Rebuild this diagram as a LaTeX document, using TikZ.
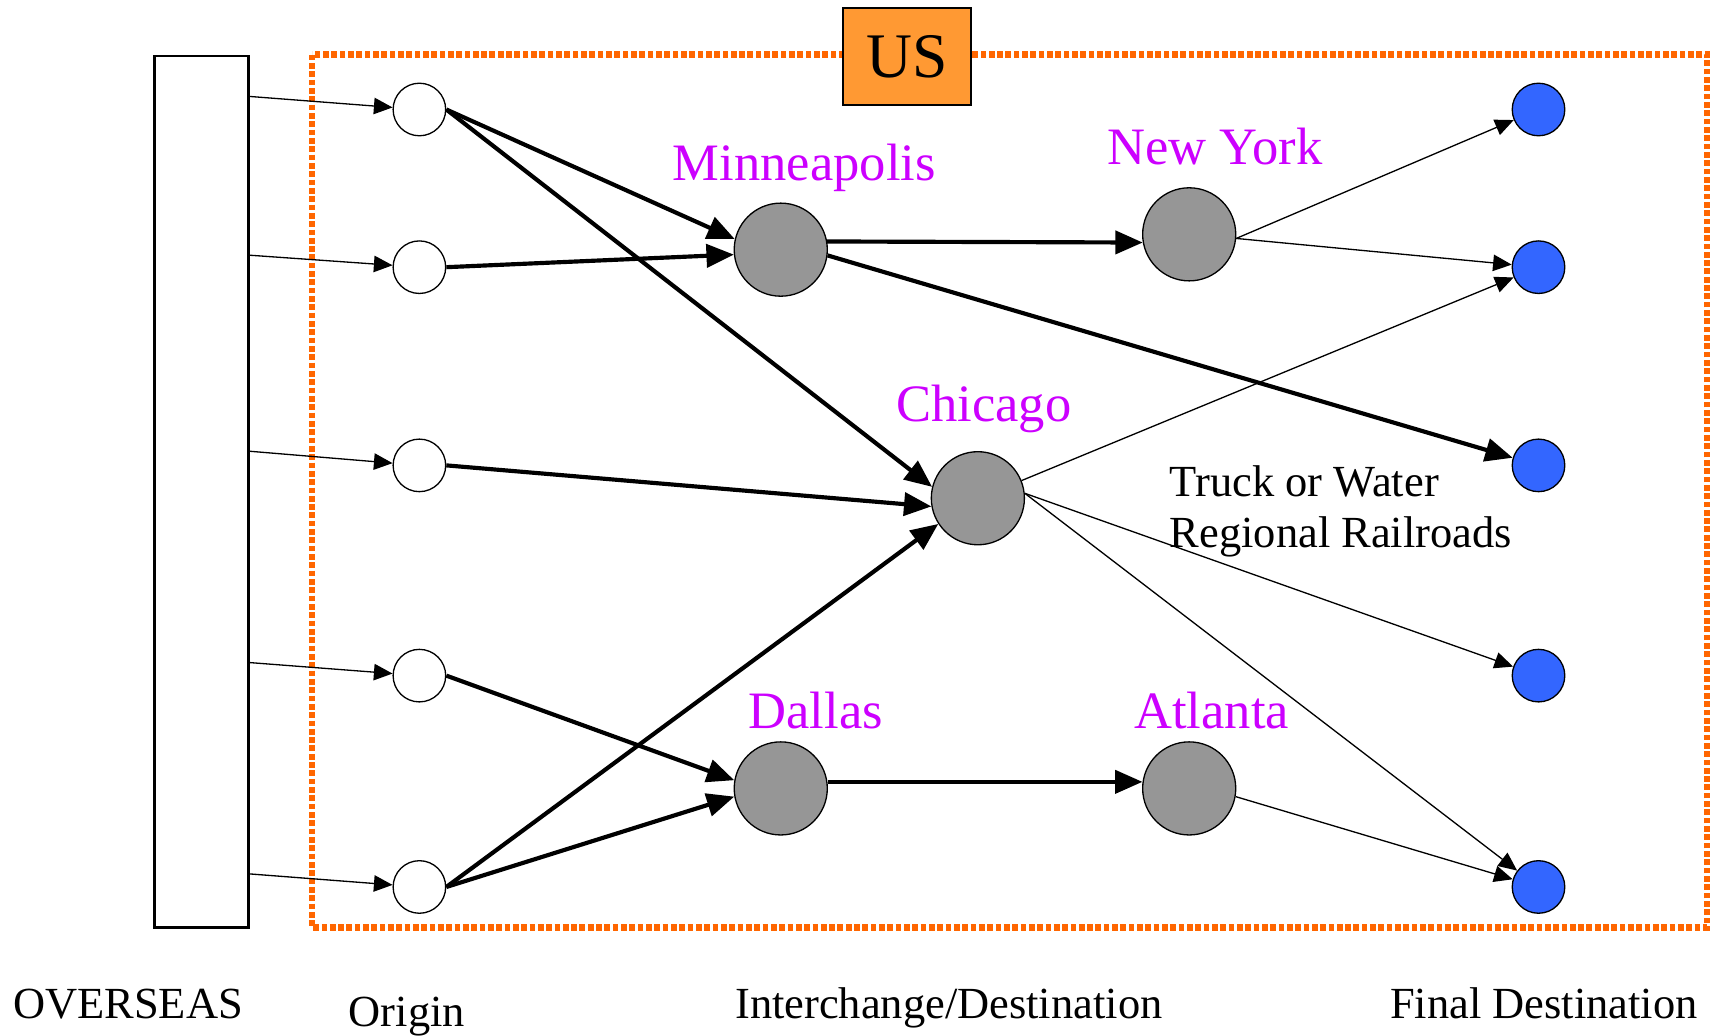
\documentclass[tikz,border=0pt]{standalone}
\usepackage{fontspec}
\setmainfont{Liberation Serif}
\usetikzlibrary{arrows.meta}
\definecolor{mag}{HTML}{CC00FF}
\definecolor{bluenode}{HTML}{3366FF}
\definecolor{graynode}{HTML}{969696}
\definecolor{usfill}{HTML}{FF9933}
\definecolor{usline}{HTML}{FF6600}
\tikzset{
  orig/.style={circle,draw=black,line width=0.6pt,fill=white,minimum size=24pt,inner sep=0pt},
  hub/.style={circle,draw=black,line width=0.6pt,fill=graynode,minimum size=42.5pt,inner sep=0pt},
  dest/.style={circle,draw=black,line width=0.6pt,fill=bluenode,minimum size=24pt,inner sep=0pt},
  city/.style={text=mag,font=\fontsize{24pt}{28pt}\selectfont,anchor=base,inner sep=0pt},
  lbl/.style={text=black,font=\fontsize{20.3pt}{24pt}\selectfont,inner sep=0pt},
  thinarr/.style={line width=0.6pt,-{Triangle[length=8.5pt,width=7.5pt]}},
  thickarr/.style={line width=1.9pt,-{Triangle[length=12.5pt,width=10.5pt]}},
}
\begin{document}
\begin{tikzpicture}[x=0.5pt,y=-0.5pt]
\useasboundingbox (0,0) rectangle (1568,946);
% US region
\draw[usline,line width=3pt,dash pattern=on 2.6pt off 1.2pt] (285,50) rectangle (1559,847);
\node[draw=black,line width=0.8pt,fill=usfill,minimum width=58.5pt,minimum height=44.5pt,inner sep=0pt,font=\fontsize{29pt}{32pt}\selectfont] (us) at (828.5,51.5) {US};
% overseas
\node[draw=black,line width=1.1pt,fill=white,minimum width=43pt,minimum height=398pt,inner sep=0pt] (ov) at (184,449) {};
% origin nodes
\node[orig] (o1) at (383,100) {};
\node[orig] (o2) at (383,244) {};
\node[orig] (o3) at (383,425) {};
\node[orig] (o4) at (383,617) {};
\node[orig] (o5) at (383,810) {};
% hubs
\node[hub] (minn) at (713,228) {};
\node[hub] (ny) at (1086,214) {};
\node[hub] (chi) at (893,455) {};
\node[hub] (dal) at (713,720) {};
\node[hub] (atl) at (1086,720) {};
% destinations
\node[dest] (b1) at (1405,100) {};
\node[dest] (b2) at (1405,244) {};
\node[dest] (b3) at (1405,425) {};
\node[dest] (b4) at (1405,617) {};
\node[dest] (b5) at (1405,810) {};
% start coordinates on overseas box
\coordinate (s1) at (227,88);
\coordinate (s2) at (227,233);
\coordinate (s3) at (227,412);
\coordinate (s4) at (227,605);
\coordinate (s5) at (227,798);
\foreach \i in {1,...,5}{\draw[thinarr] (s\i) -- (o\i);}
% thick connectors
\draw[thickarr] (o1.east) -- (minn.167);
\draw[thickarr] (o1.east) -- (chi.166);
\draw[thickarr] (o2.east) -- (minn.186);
\draw[thickarr] (o3.east) -- (chi.190);
\draw[thickarr] (o4.east) -- (dal.170);
\draw[thickarr] (o5.east) -- (chi.213);
\draw[thickarr] (o5.east) -- (dal.190);
\draw[thickarr] (minn.10) -- (ny.190);
\draw[thickarr] (minn.-7) -- (b3);
\draw[thickarr] (dal.8) -- (atl.172);
% thin connectors
\draw[thinarr] (ny.-5) -- (b1);
\draw[thinarr] (ny.-5) -- (b2);
\draw[thinarr] (chi.22) -- (b2);
\draw[thinarr] (chi.6) -- (b4);
\draw[thinarr] (chi.6) -- (b5);
\draw[thinarr] (atl.-10) -- (b5);
% city labels
\node[city] (lminn) at (734.5,165) {Minneapolis};
\node[city] (lny) at (1109.5,150) {New York};
\node[city] (lchi) at (898.5,385) {Chicago};
\node[city] (ldal) at (745,665) {Dallas};
\node[city] (latl) at (1106.5,665) {Atlanta};
% mode labels
\node[lbl,anchor=base west] (tw) at (1068,453) {Truck or Water};
\node[lbl,anchor=base west] (rr) at (1068,500) {Regional Railroads};
% bottom labels
\node[lbl,anchor=base] (lov) at (117,930) {OVERSEAS};
\node[lbl,anchor=base] (lor) at (371.5,937) {Origin};
\node[lbl,anchor=base] (lin) at (866.5,930) {Interchange/Destination};
\node[lbl,anchor=base] (lfd) at (1410,930) {Final Destination};
\end{tikzpicture}
\end{document}
